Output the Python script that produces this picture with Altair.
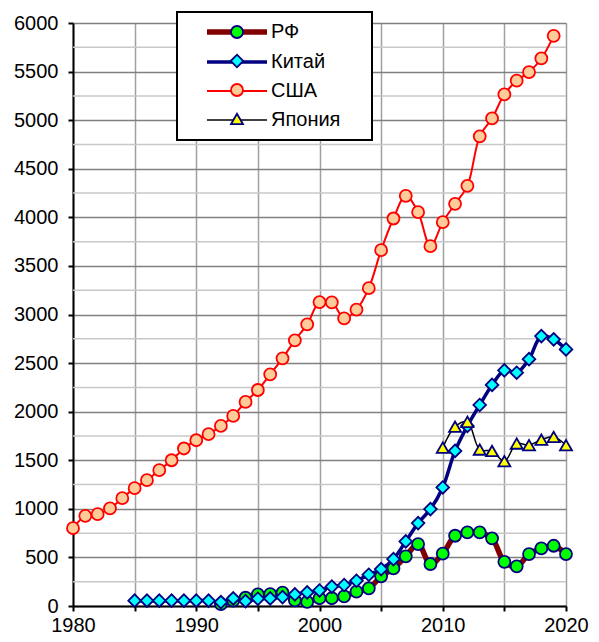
import json
import altair as alt
import pandas as pd

FONT = "Liberation Sans"

series_names = ["РФ", "Китай", "США", "Япония"]

rf_years = list(range(1992, 2021))
rf_values = [20, 55, 85, 120, 122, 138, 58, 42, 80, 80, 100, 147, 182, 305, 387,
             511, 637, 432, 538, 723, 757, 757, 696, 455, 408, 534, 593, 620, 534]

china_years = list(range(1985, 2021))
china_values = [55, 55, 55, 55, 55, 55, 55, 40, 78, 50, 75, 78, 92, 120, 140, 160,
                200, 216, 260, 322, 380, 483, 665, 853, 997, 1220, 1596, 1853, 2069,
                2275, 2425, 2401, 2540, 2778, 2744, 2641]

usa_years = list(range(1980, 2020))
usa_values = [801, 928, 945, 1004, 1110, 1213, 1295, 1398, 1500, 1621, 1706, 1768,
              1853, 1956, 2100, 2223, 2384, 2549, 2734, 2898, 3128, 3125, 2960, 3050,
              3271, 3662, 3988, 4221, 4053, 3703, 3950, 4139, 4324, 4834, 5019, 5265,
              5406, 5495, 5635, 5868]

japan_years = list(range(2010, 2021))
japan_values = [1630, 1845, 1895, 1610, 1595, 1490, 1672, 1655, 1712, 1740, 1655]

x_ticks = list(range(1980, 2021, 5))
y_ticks = list(range(0, 6001, 500))
y_minor = list(range(250, 6000, 500))

line_colors = ["#800000", "#000080", "#ff0000", "#000000"]
line_widths = [5.5, 3.5, 2, 1.5]
marker_fills = ["#00ff00", "#00ffff", "#ffcc99", "#ffff00"]
marker_strokes = ["#000080", "#000080", "#ff0000", "#000080"]

LEAD = "M-8.333,0 "
CIRCLE = LEAD + "M-1,0 A1,1 0 1,0 1,0 A1,1 0 1,0 -1,0 Z"
DIAMOND = LEAD + "M-1.05,0 L0,-1.05 L1.05,0 L0,1.05 Z"
TRIANGLE = LEAD + "M0,-0.866 L-1,0.866 L1,0.866 Z"
LINE_SYM = LEAD + "M-5,0 L5,0"
marker_shapes = [CIRCLE, DIAMOND, CIRCLE, TRIANGLE]

rows = []
for name, yrs, vals in [("РФ", rf_years, rf_values), ("Китай", china_years, china_values),
                        ("США", usa_years, usa_values), ("Япония", japan_years, japan_values)]:
    for yr, v in zip(yrs, vals):
        rows.append({"series": name, "year": yr, "value": v})
df = pd.DataFrame(rows)
minor_df = pd.DataFrame({"v": y_minor})

marker_domain = [s + "_m" for s in series_names]
names_js = json.dumps(series_names, ensure_ascii=False)
widths_js = json.dumps(line_widths)
legend_width_expr = (f"((datum && datum.value && indexof({names_js}, datum.value) >= 0) ? "
                     f"{widths_js}[indexof({names_js}, datum.value)] : 1.5)")

x_axis = alt.Axis(values=x_ticks, format="d", title=None,
                  labelExpr="datum.value % 10 === 0 ? datum.label : ''",
                  grid=True, gridColor="#a0a0a0", gridWidth=1.5,
                  tickSize=5, tickColor="black", tickWidth=2,
                  domainColor="black", domainWidth=2,
                  labelFont=FONT, labelFontSize=20, labelColor="black",
                  labelPadding=4, labelFlush=False, labelOverlap=False)
y_axis = alt.Axis(values=y_ticks, format="d", title=None,
                  grid=True, gridColor="#808080", gridWidth=1.5,
                  tickSize=5, tickColor="black", tickWidth=2,
                  domainColor="black", domainWidth=2,
                  labelFont=FONT, labelFontSize=20, labelColor="black",
                  labelPadding=10, labelFlush=False, labelOverlap=False)

x_scale = alt.Scale(domain=[1980, 2020], nice=False, zero=False)
y_scale = alt.Scale(domain=[0, 6000], nice=False)

legA = alt.Legend(orient="none", legendX=104, legendY=-11, title="\u00a0",
                  titleOrient="right", titlePadding=22, titleFontSize=20, titleFont=FONT,
                  symbolType=LINE_SYM, symbolSize=144, symbolOffset=40,
                  symbolFillColor="transparent",
                  symbolStrokeWidth={"expr": legend_width_expr},
                  labelOffset=24, labelFont=FONT, labelFontSize=20, labelColor="black",
                  rowPadding=9, padding=10, strokeColor="black", fillColor="white",
                  zindex=1)
legB = alt.Legend(orient="none", legendX=104, legendY=-11, title=None,
                  symbolSize=144, symbolOffset=40, symbolStrokeWidth=1.8,
                  labelOffset=154, labelFont=FONT, labelFontSize=20, labelOpacity=0,
                  rowPadding=9, padding=10, zindex=2)

minor = alt.Chart(minor_df).mark_rule(color="#c8c8c8", strokeWidth=1.5).encode(
    y=alt.Y("v:Q", scale=y_scale, axis=y_axis)
)

lines = alt.Chart(df).transform_calculate(
    lw=f"{widths_js}[indexof({names_js}, datum.series)]"
).mark_line(interpolate="catmull-rom").encode(
    x=alt.X("year:Q", scale=x_scale, axis=x_axis),
    y=alt.Y("value:Q", scale=y_scale, axis=y_axis),
    color=alt.Color("series:N", scale=alt.Scale(domain=series_names, range=line_colors), legend=legA),
    strokeWidth=alt.StrokeWidth("lw:Q", scale=None),
    order=alt.Order("year:Q"),
)

points = alt.Chart(df).transform_calculate(
    marker="datum.series + '_m'"
).mark_point(filled=True, opacity=1, size=144, strokeWidth=1.8).encode(
    x=alt.X("year:Q", scale=x_scale, axis=x_axis),
    y=alt.Y("value:Q", scale=y_scale, axis=y_axis),
    shape=alt.Shape("marker:N", scale=alt.Scale(domain=marker_domain, range=marker_shapes), legend=legB),
    fill=alt.Fill("marker:N", scale=alt.Scale(domain=marker_domain, range=marker_fills), legend=legB),
    stroke=alt.Stroke("marker:N", scale=alt.Scale(domain=marker_domain, range=marker_strokes), legend=legB),
)

chart = alt.layer(minor, lines, points).properties(
    width=493, height=583,
    autosize=alt.AutoSizeParams(type="none"),
    padding={"left": 65, "top": 15, "right": 25, "bottom": 28},
    background="white",
).configure_view(strokeWidth=0).configure_legend(strokeWidth=2)

chart.save("out.html", embed_options={"renderer": "svg", "actions": False})
